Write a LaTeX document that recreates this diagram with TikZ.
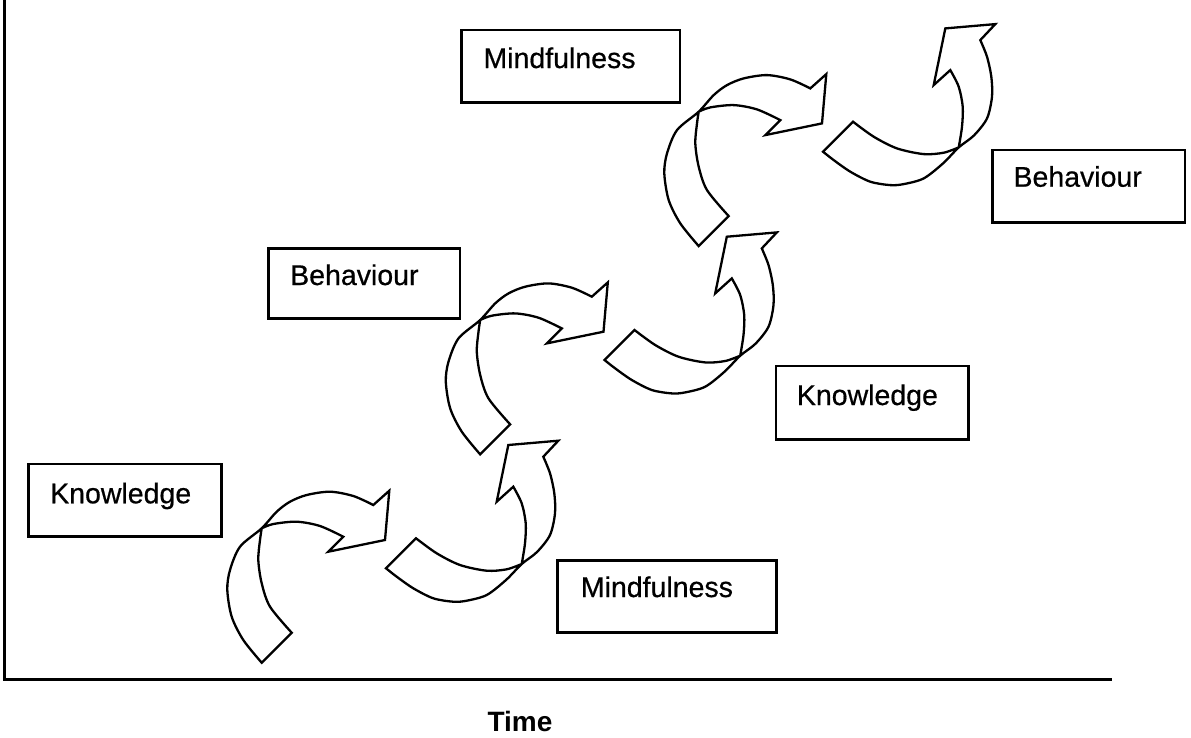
\documentclass[tikz,border=0pt]{standalone}
\usepackage{fontspec}
\setmainfont{Liberation Sans}
\newfontfamily\scanfont[FakeBold=0.6]{Liberation Sans}
\begin{document}
\begin{tikzpicture}[x=1pt,y=-1pt,
  box/.style={draw, line width=2.6pt, rectangle, inner sep=0pt},
  lbl/.style={font=\scanfont\fontsize{28.5}{34}\selectfont, inner sep=0pt, anchor=base west},
  arrowline/.style={draw, line width=2.3pt, line join=miter, fill=white},
  axis/.style={line width=3pt}]
\useasboundingbox (0,0) rectangle (1191,737);

% axes
\coordinate (top) at (4.7,0);
\coordinate (origin) at (4.7,679.5);
\coordinate (right) at (1112,679.5);
\draw[axis] (top) -- (origin) -- (right);
\node[font=\bfseries\fontsize{28}{34}\selectfont, inner sep=0pt, anchor=base] (time) at (520,731) {Time};

% one step of the spiral: an arrow bending right, then one bending up
\newcommand\stepright{%
  \draw[arrowline]
    plot[smooth] coordinates {(291.7,632.7) (270,606.7) (261.7,583.3) (258.3,560) (260,540) (261.7,528.3)}
    -- plot[smooth] coordinates {(261.7,528.3) (273.3,524) (296.7,521.7) (320,526) (343.3,536.7)}
    -- (328.3,551.7) -- (385,540) -- (389.3,490.7) -- (373.3,505)
    -- plot[smooth] coordinates {(373.3,505) (353.3,496) (330,491.7) (306.7,495) (290,501.7) (276.7,511.7) (261.7,528.3) (240,546.7) (230,570) (227.3,590) (231.7,616.7) (243.3,640) (261.7,662.7)}
    -- cycle;}
\newcommand\stepup{%
  \draw[arrowline]
    plot[smooth] coordinates {(416,538.3) (436.7,553.3) (460,565) (486.7,570.7) (506.7,569.3) (521.7,564)}
    -- plot[smooth] coordinates {(521.7,564) (525,543.3) (525.7,523.3) (521.7,503.3) (513.3,486.7)}
    -- (496.7,501.7) -- (508.3,445) -- (558.3,440.7) -- (543.3,456.7)
    -- plot[smooth] coordinates {(543.3,456.7) (550,473.3) (554.3,493.3) (555,513.3) (550,535) (537,552) (521.7,564) (506,580) (486.7,595) (466.7,600.7) (453.3,601.7) (433.3,598.3) (413.3,588.3) (396.7,576.7) (386,568.3)}
    -- cycle;}

\foreach \k in {0,1,2}{
  \begin{scope}[shift={({218.5*\k},{-208.3*\k})}]
    \stepright
    \stepup
  \end{scope}
}

% labelled boxes
\node[box, minimum width=193.4pt, minimum height=72.7pt] (k1) at (125,500.35) {};
\node[lbl] (k1t) at (50,503.3) {Knowledge};

\node[box, minimum width=219.4pt, minimum height=72pt] (m1) at (667,596.7) {};
\node[lbl] (m1t) at (580.7,597) {Mindfulness};

\node[box, minimum width=191.7pt, minimum height=70pt] (b1) at (364.15,283.3) {};
\node[lbl] (b1t) at (290,285) {Behaviour};

\node[box, minimum width=192.3pt, minimum height=73.3pt] (k2) at (872.15,402.65) {};
\node[lbl] (k2t) at (796.7,405) {Knowledge};

\node[box, minimum width=218.3pt, minimum height=72.3pt] (m2) at (570.85,66.15) {};
\node[lbl] (m2t) at (483.3,68) {Mindfulness};

\node[box, minimum width=192.7pt, minimum height=72.3pt] (b2) at (1088.65,186.15) {};
\node[lbl] (b2t) at (1013.3,186.7) {Behaviour};
\end{tikzpicture}
\end{document}
